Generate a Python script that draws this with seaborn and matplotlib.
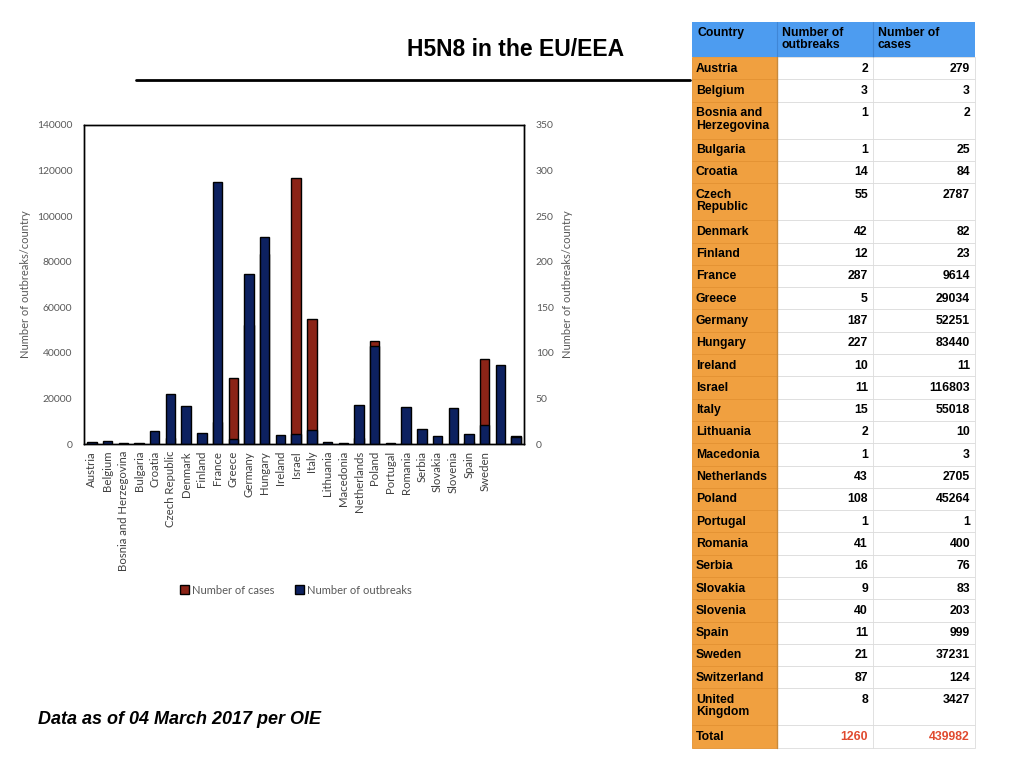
import textwrap
import matplotlib
matplotlib.use("Agg")
import matplotlib.pyplot as plt
from matplotlib.patches import Patch, Rectangle
import seaborn as sns

countries = ["Austria", "Belgium", "Bosnia and Herzegovina", "Bulgaria", "Croatia",
             "Czech Republic", "Denmark", "Finland", "France", "Greece", "Germany",
             "Hungary", "Ireland", "Israel", "Italy", "Lithuania", "Macedonia",
             "Netherlands", "Poland", "Portugal", "Romania", "Serbia", "Slovakia",
             "Slovenia", "Spain", "Sweden", "Switzerland", "United Kingdom"]
outbreaks = [2, 3, 1, 1, 14, 55, 42, 12, 287, 5, 187, 227, 10, 11, 15, 2, 1,
             43, 108, 1, 41, 16, 9, 40, 11, 21, 87, 8]
cases = [279, 3, 2, 25, 84, 2787, 82, 23, 9614, 29034, 52251, 83440, 11, 116803,
         55018, 10, 3, 2705, 45264, 1, 400, 76, 83, 203, 999, 37231, 124, 3427]
# the chart in the source only labels the first 26 bars
shown_labels = countries[:26] + ["", ""]
left_ticks = [0, 20000, 40000, 60000, 80000, 100000, 120000, 140000]
right_ticks = [0, 50, 100, 150, 200, 250, 300, 350]

navy = "#0d2160"
dark_red = "#8b2417"
grey = "#595959"

sns.set_style("white")
plt.rcParams["font.family"] = ["Lato", "DejaVu Sans"]
plt.rcParams["text.color"] = "black"

fig = plt.figure(figsize=(10.24, 7.68), dpi=100)

# bar chart, cases on left axis, outbreaks on twin axis drawn on top
ax = fig.add_axes([84 / 1024, 1 - 444 / 768, 440 / 1024, 319 / 768])
sns.barplot(x=countries, y=cases, ax=ax, color=dark_red, width=0.6,
            edgecolor="black", linewidth=1, saturation=1)
ax2 = ax.twinx()
sns.barplot(x=countries, y=outbreaks, ax=ax2, color=navy, width=0.6,
            edgecolor="black", linewidth=1, saturation=1)

ax.set_xlim(-0.5, len(countries) - 0.5)
ax.set_ylim(0, 140000)
ax2.set_ylim(0, 350)
ax.set_yticks(left_ticks)
ax2.set_yticks(right_ticks)
ax.set_yticklabels([str(t) for t in left_ticks], fontsize=7.5, color=grey)
ax2.set_yticklabels([str(t) for t in right_ticks], fontsize=7.5, color=grey)
ax.set_xticks(range(len(countries)))
ax.set_xticklabels(shown_labels, rotation=90, fontsize=8.2, color="#404040")
ax.tick_params(axis="y", length=0, pad=8.5)
ax.tick_params(axis="x", length=0, pad=5)
ax2.tick_params(axis="y", length=0, pad=8.5)
ax.set_ylabel("Number of outbreaks/country", fontsize=8, color=grey, labelpad=4)
ax2.set_ylabel("Number of outbreaks/country", fontsize=8, color=grey, labelpad=6)
ax.set_xlabel("")
for a in (ax, ax2):
    for s in a.spines.values():
        s.set_visible(True)
        s.set_color("black")
        s.set_linewidth(1)

fig.legend(handles=[Patch(facecolor=dark_red, edgecolor="black", label="Number of cases"),
                    Patch(facecolor=navy, edgecolor="black", label="Number of outbreaks")],
           loc="center", bbox_to_anchor=(296 / 1024, 1 - 590 / 768), ncol=2,
           frameon=False, fontsize=8, handlelength=0.8, handleheight=0.8,
           handletextpad=0.3, columnspacing=1.8, labelcolor=grey)

# overlay in pixel coordinates for title, rule, footer and table
ov = fig.add_axes([0, 0, 1, 1])
ov.set_xlim(0, 1024)
ov.set_ylim(768, 0)
ov.axis("off")

ov.text(516, 50, "H5N8 in the EU/EEA", ha="center", va="center", fontsize=16.5,
        fontweight="bold", color="black", family=["Liberation Sans", "DejaVu Sans"])
ov.plot([136, 690], [80, 80], color="black", lw=2)
ov.text(38, 720, "Data as of 04 March 2017 per OIE", ha="left", va="center",
        fontsize=13, fontweight="bold", fontstyle="italic", color="black",
        family=["Liberation Sans", "DejaVu Sans"])

blue = "#4d9cf0"
orange = "#f0a040"
col_x = [692, 777, 873, 975]
tfont = dict(fontsize=8.8, fontweight="bold", family=["Liberation Sans", "DejaVu Sans"])

y = 22
hh = 35
ov.add_patch(Rectangle((col_x[0], y), col_x[3] - col_x[0], hh, facecolor=blue, lw=0))
for i, h in enumerate(["Country", "Number of\noutbreaks", "Number of\ncases"]):
    ov.text(col_x[i] + 5, y + 5, h, ha="left", va="top", linespacing=1.05,
            color="black", **tfont)
ov.plot([col_x[1], col_x[1]], [y, y + hh], color="#3f86d6", lw=0.8)
ov.plot([col_x[2], col_x[2]], [y, y + hh], color="#3f86d6", lw=0.8)
y += hh

rows = [(textwrap.fill(c, 11), str(o), str(n)) for c, o, n in zip(countries, outbreaks, cases)]
rows.append(("Total", str(sum(outbreaks)), str(sum(cases))))
for k, (name, o, n) in enumerate(rows):
    h = 37 if "\n" in name else 22.3
    ov.add_patch(Rectangle((col_x[0], y), col_x[1] - col_x[0], h, facecolor=orange,
                           edgecolor="#e39232", lw=0.6))
    ov.add_patch(Rectangle((col_x[1], y), col_x[3] - col_x[1], h, facecolor="white",
                           edgecolor="#dcdcdc", lw=0.6))
    ov.plot([col_x[2], col_x[2]], [y, y + h], color="#dcdcdc", lw=0.6)
    num_color = "#e04a2f" if name == "Total" else "black"
    ov.text(col_x[0] + 4, y + 5.5, name, ha="left", va="top", linespacing=1.05,
            color="black", **tfont)
    ov.text(col_x[2] - 5, y + 5.5, o, ha="right", va="top", color=num_color, **tfont)
    ov.text(col_x[3] - 5, y + 5.5, n, ha="right", va="top", color=num_color, **tfont)
    y += h
ov.plot([col_x[1], col_x[1]], [57, y], color="#c88a3c", lw=1)

fig.savefig("out.png", dpi=100)
